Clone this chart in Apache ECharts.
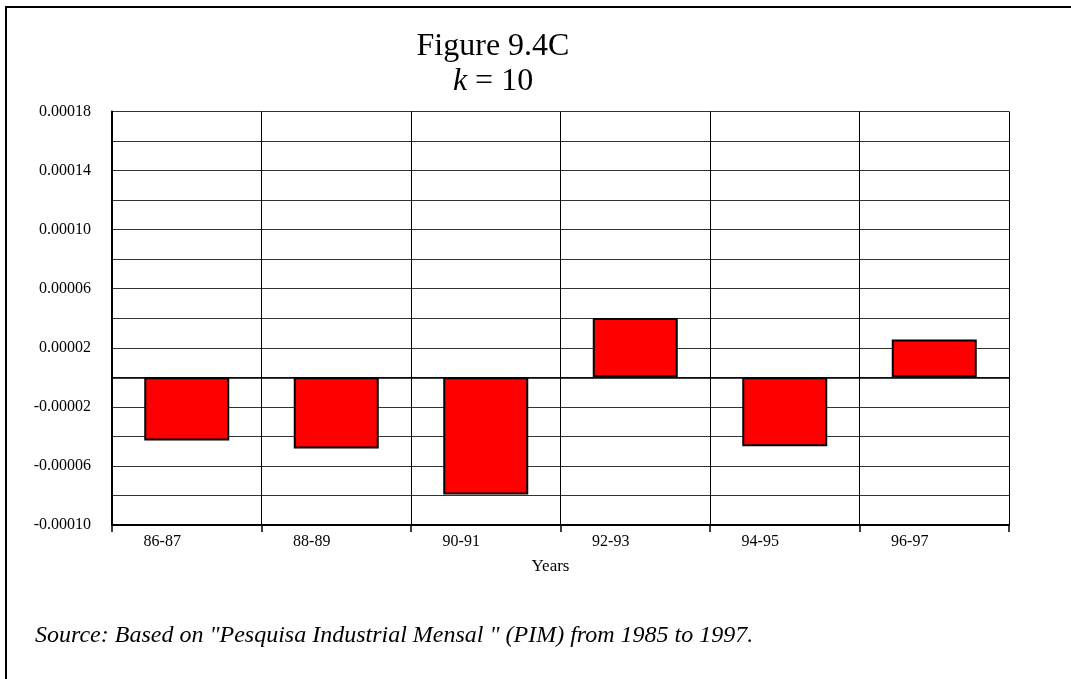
<!DOCTYPE html>
<html>
<head>
<meta charset="utf-8">
<script src="https://cdn.jsdelivr.net/npm/echarts@6/dist/echarts.min.js"></script>
<style>
html,body{margin:0;padding:0;background:#fff;}
#chart{width:1071px;height:679px;}
</style>
</head>
<body>
<div id="chart"></div>
<script>
var categories = ['86-87', '88-89', '90-91', '92-93', '94-95', '96-97'];
var values = [-0.0000428, -0.0000482, -0.0000793, 0.0000402, -0.0000467, 0.0000256];
var yTickLabels = ['-0.00010', '-0.00006', '-0.00002', '0.00002', '0.00006', '0.00010', '0.00014', '0.00018'];
var titleLine1 = 'Figure 9.4C';
var sourceText = 'Source: Based on "Pesquisa Industrial Mensal " (PIM) from 1985 to 1997.';

var yMin = -0.0001, yMax = 0.00018, yStep = 0.00002;
var serif = '"Liberation Serif", "Times New Roman", "DejaVu Serif", serif';

var chart = echarts.init(document.getElementById('chart'), null, {renderer: 'canvas'});
chart.setOption({
  animation: false,
  backgroundColor: '#fff',
  grid: {left: 112, right: 62, top: 111.5, bottom: 154, containLabel: false},
  xAxis: {
    type: 'category',
    data: categories,
    boundaryGap: true,
    position: 'bottom',
    axisLine: {onZero: false, lineStyle: {color: '#000', width: 2}},
    axisTick: {show: true, length: 7, alignWithLabel: false, lineStyle: {color: '#000', width: 1.5}},
    axisLabel: {color: '#000', fontFamily: serif, fontSize: 16, margin: 9, padding: [0, 49, 0, 0]},
    splitLine: {show: true, lineStyle: {color: '#000', width: 1}},
    name: 'Years',
    nameLocation: 'middle',
    nameGap: 33,
    nameTextStyle: {color: '#000', fontFamily: serif, fontSize: 17, padding: [0, 20, 0, 0]}
  },
  yAxis: {
    type: 'value',
    min: yMin,
    max: yMax,
    interval: yStep,
    axisLine: {show: true, lineStyle: {color: '#000', width: 2}},
    axisTick: {show: false},
    axisLabel: {
      color: '#000', fontFamily: serif, fontSize: 16, margin: 21,
      formatter: function (v) {
        var idx = Math.round((v - yMin) / yStep);
        if (idx % 2 !== 0) return '';
        return yTickLabels[idx / 2] || '';
      }
    },
    splitLine: {show: true, lineStyle: {color: '#333', width: 1}}
  },
  series: [{
    type: 'bar',
    data: values,
    barWidth: 85,
    itemStyle: {color: '#ff0000', borderColor: '#000', borderWidth: 2},
    markLine: {
      silent: true,
      symbol: ['none', 'none'],
      label: {show: false},
      lineStyle: {color: '#000', width: 1.5, type: 'solid'},
      data: [{yAxis: 0}]
    }
  }],
  graphic: [
    {type: 'rect', silent: true, shape: {x: 6, y: 7, width: 3000, height: 3000},
     style: {fill: 'none', stroke: '#000', lineWidth: 2}},
    {type: 'text', silent: true, x: 493, y: 47,
     style: {text: titleLine1, fill: '#000', font: '32px ' + serif, textAlign: 'center', textVerticalAlign: 'middle'}},
    {type: 'text', silent: true, x: 493, y: 82,
     style: {text: '{i|k} = 10', fill: '#000', font: '32px ' + serif, textAlign: 'center', textVerticalAlign: 'middle',
       rich: {i: {fontStyle: 'italic', fontFamily: serif, fontSize: 32, fill: '#000'}}}},
    {type: 'text', silent: true, x: 35, y: 636,
     style: {text: sourceText, fill: '#000', font: 'italic 24px ' + serif, textAlign: 'left', textVerticalAlign: 'middle'}}
  ]
});
</script>
</body>
</html>
